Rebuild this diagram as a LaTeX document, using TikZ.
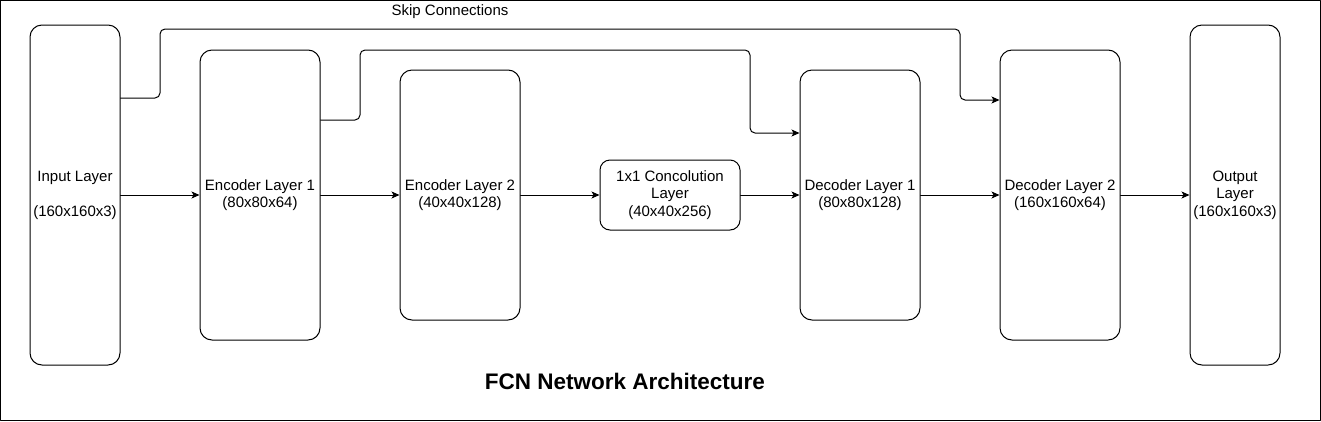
\documentclass[tikz,border=0pt]{standalone}
\usepackage{fontspec}
\setmainfont{Liberation Sans}
\usetikzlibrary{arrows.meta}
\usetikzlibrary{positioning}

\begin{document}
\begin{tikzpicture}[line cap=round,line join=round,>={Stealth[length=8pt,width=7pt,inset=2pt]},x=1pt,y=-1pt,
  layer/.style={draw,line width=1pt,rounded corners=12pt,inner sep=0pt,align=center,font=\fontsize{15}{17.5}\selectfont},
  link/.style={->,line width=1pt,rounded corners=5pt}]
\useasboundingbox (0,0) rectangle (1321,421);
\draw[line width=1pt] (0.5,0.5) rectangle (1320.5,420.5);
% layers
\node[layer,minimum width=90pt,minimum height=340pt] (inp) at (75,195) {Input Layer\\~\\(160x160x3)};
\node[layer,minimum width=120pt,minimum height=290pt] (enc1) at (260,195) {Encoder Layer 1\\(80x80x64)};
\node[layer,minimum width=120pt,minimum height=250pt] (enc2) at (460,195) {Encoder Layer 2\\(40x40x128)};
\node[layer,minimum width=140pt,minimum height=70pt,rounded corners=10pt] (conv) at (670,195) {1x1 Concolution\\Layer\\(40x40x256)};
\node[layer,minimum width=120pt,minimum height=250pt] (dec1) at (860,195) {Decoder Layer 1\\(80x80x128)};
\node[layer,minimum width=120pt,minimum height=290pt] (dec2) at (1060,195) {Decoder Layer 2\\(160x160x64)};
\node[layer,minimum width=90pt,minimum height=340pt] (out) at (1235,195) {Output\\Layer\\(160x160x3)};
% main path
\draw[link] (inp) -- (enc1);
\draw[link] (enc1) -- (enc2);
\draw[link] (enc2) -- (conv);
\draw[link] (conv) -- (dec1);
\draw[link] (dec1) -- (dec2);
\draw[link] (dec2) -- (out);
% skip connections
\draw[link] (inp.east |- 0,98) -- (160,98) -- (160,29) -- (960,29) -- (960,100) -- (dec2.west |- 0,100);
\draw[link] (enc1.east |- 0,120) -- (360,120) -- (360,50) -- (750,50) -- (750,133) -- (dec1.west |- 0,133);
\node[font=\fontsize{15}{17.5}\selectfont] (skip) at (450,12) {Skip Connections};
\node[font=\fontsize{22.5}{27}\selectfont\bfseries] (title) at (625,381) {FCN Network Architecture};
\end{tikzpicture}
\end{document}
